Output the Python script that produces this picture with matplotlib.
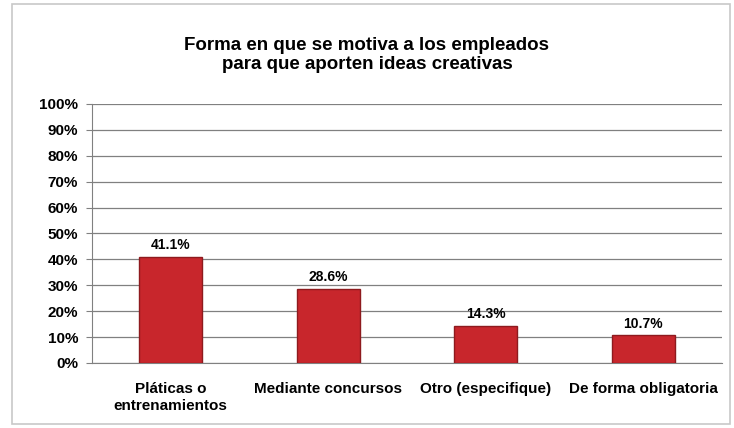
import matplotlib.pyplot as plt
from matplotlib.ticker import FuncFormatter
from matplotlib.patches import Rectangle

categorias = ['Pláticas o\nentrenamientos', 'Mediante concursos',
              'Otro (especifique)', 'De forma obligatoria']
porcentajes = [41.1, 28.6, 14.3, 10.7]
titulo = 'Forma en que se motiva a los empleados\npara que aporten ideas creativas'

plt.rcParams['font.family'] = ['Liberation Sans', 'DejaVu Sans']
plt.rcParams['font.weight'] = 'bold'

fig = plt.figure(figsize=(7.34, 4.28), dpi=100)
ax = fig.add_axes([92 / 734, 1 - 363 / 428, 630 / 734, 259 / 428])

# Marco del gráfico
fig.patches.append(Rectangle((12 / 734, 4 / 428), 718 / 734, 420 / 428,
                             transform=fig.transFigure, fill=False,
                             edgecolor='#c8c8c8', linewidth=1.2))

x = range(len(categorias))
barras = ax.bar(x, porcentajes, width=0.4, color='#c8262c',
                edgecolor='#8e1a1e', linewidth=1.0, zorder=3)

for xi, v in zip(x, porcentajes):
    ax.text(xi, v + 1.8, f'{v:.1f}%', ha='center', va='bottom',
            fontsize=10, fontweight='bold')

ax.set_xlim(-0.5, len(categorias) - 0.5)
ax.set_ylim(0, 100)
ax.set_yticks(range(0, 101, 10))
ax.yaxis.set_major_formatter(FuncFormatter(lambda v, p: f'{int(v)}%'))
ax.grid(axis='y', color='#808080', linewidth=0.9, zorder=0)
ax.set_xticks(list(x))
ax.set_xticklabels(categorias)
ax.tick_params(axis='x', length=0, pad=14, labelsize=11)
ax.tick_params(axis='y', length=4, color='#808080', labelsize=11, pad=6)

for lado in ['top', 'right']:
    ax.spines[lado].set_visible(False)
ax.spines['left'].set_color('#808080')
ax.spines['bottom'].set_color('#808080')

fig.text(0.5, 1 - 55 / 428, titulo, ha='center', va='center',
         fontsize=13.5, fontweight='bold', linespacing=1.15)

fig.savefig('out.png', dpi=100)
